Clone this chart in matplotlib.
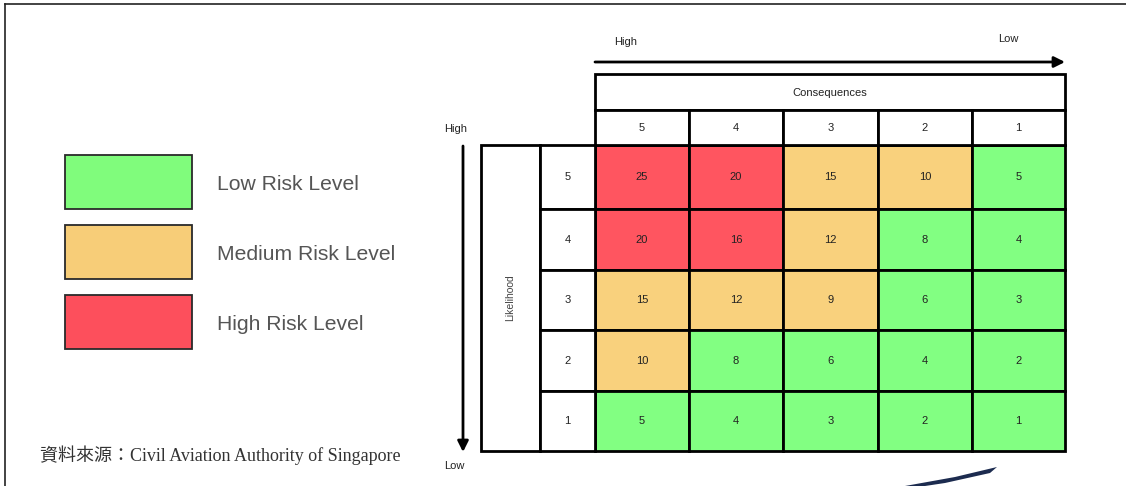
import matplotlib
matplotlib.use("Agg")
import matplotlib.pyplot as plt
from matplotlib.patches import Rectangle, Polygon

# ---------------- data ----------------
consequence_labels = ["5", "4", "3", "2", "1"]      # left -> right
likelihood_labels = ["5", "4", "3", "2", "1"]       # top -> bottom
risk_row_5 = [25, 20, 15, 10, 5]
risk_row_4 = [20, 16, 12, 8, 4]
risk_row_3 = [15, 12, 9, 6, 3]
risk_row_2 = [10, 8, 6, 4, 2]
risk_row_1 = [5, 4, 3, 2, 1]
level_row_5 = ["H", "H", "M", "M", "L"]
level_row_4 = ["H", "H", "M", "L", "L"]
level_row_3 = ["M", "M", "M", "L", "L"]
level_row_2 = ["M", "L", "L", "L", "L"]
level_row_1 = ["L", "L", "L", "L", "L"]
legend_labels = ["Low Risk Level", "Medium Risk Level", "High Risk Level"]
legend_levels = ["L", "M", "H"]
source_text = "資料來源：Civil Aviation Authority of Singapore"

risk_values = [risk_row_5, risk_row_4, risk_row_3, risk_row_2, risk_row_1]
risk_levels = [level_row_5, level_row_4, level_row_3, level_row_2, level_row_1]

# ---------------- style ----------------
cell_colors = {"L": "#82FF82", "M": "#F9D17D", "H": "#FF5560"}
legend_colors = {"L": "#80FC7C", "M": "#F7CD78", "H": "#FD4F5C"}
sans = "Liberation Sans"
lw = 2.0
num_fs = 8

fig = plt.figure(figsize=(11.26, 4.86), dpi=100)
ax = fig.add_axes([0, 0, 1, 1])
ax.set_xlim(0, 1126)
ax.set_ylim(486, 0)
ax.axis("off")

# outer frame (top and left)
ax.plot([5, 1126], [4, 4], color="#222222", lw=1.2)
ax.plot([5, 5], [4, 486], color="#222222", lw=1.2)

# grid layout
col_edges = [595, 689, 783, 878, 972, 1065]
row_edges = [145, 209, 270, 330, 391, 451]
head_top, head_mid = 74, 110
lik_left, lik_num = 481, 540

# matrix cells
for i, (vals, levs) in enumerate(zip(risk_values, risk_levels)):
    for j, (v, lv) in enumerate(zip(vals, levs)):
        x0, x1 = col_edges[j], col_edges[j + 1]
        y0, y1 = row_edges[i], row_edges[i + 1]
        ax.add_patch(Rectangle((x0, y0), x1 - x0, y1 - y0, facecolor=cell_colors[lv],
                               edgecolor="black", lw=lw))
        ax.text((x0 + x1) / 2, (y0 + y1) / 2, str(v), ha="center", va="center",
                fontsize=num_fs, family=sans, color="#222222")

# consequences header
ax.add_patch(Rectangle((col_edges[0], head_top), col_edges[-1] - col_edges[0],
                       head_mid - head_top, facecolor="white", edgecolor="black", lw=lw))
ax.text((col_edges[0] + col_edges[-1]) / 2, (head_top + head_mid) / 2 + 1, "Consequences",
        ha="center", va="center", fontsize=num_fs, family=sans, color="#222222")
for j, lab in enumerate(consequence_labels):
    x0, x1 = col_edges[j], col_edges[j + 1]
    ax.add_patch(Rectangle((x0, head_mid), x1 - x0, row_edges[0] - head_mid,
                           facecolor="white", edgecolor="black", lw=lw))
    ax.text((x0 + x1) / 2, (head_mid + row_edges[0]) / 2, lab, ha="center", va="center",
            fontsize=num_fs, family=sans, color="#222222")

# likelihood header
ax.add_patch(Rectangle((lik_left, row_edges[0]), lik_num - lik_left,
                       row_edges[-1] - row_edges[0], facecolor="white",
                       edgecolor="black", lw=lw))
ax.text((lik_left + lik_num) / 2, (row_edges[0] + row_edges[-1]) / 2, "Likelihood",
        rotation=90, ha="center", va="center", fontsize=7.5, family=sans, color="#444444")
for i, lab in enumerate(likelihood_labels):
    y0, y1 = row_edges[i], row_edges[i + 1]
    ax.add_patch(Rectangle((lik_num, y0), col_edges[0] - lik_num, y1 - y0,
                           facecolor="white", edgecolor="black", lw=lw))
    ax.text((lik_num + col_edges[0]) / 2, (y0 + y1) / 2, lab, ha="center", va="center",
            fontsize=num_fs, family=sans, color="#222222")

# arrows
ax.annotate("", xy=(1065, 62), xytext=(595, 62),
            arrowprops=dict(arrowstyle="-|>", lw=2.0, color="black",
                            mutation_scale=16, shrinkA=0, shrinkB=0))
ax.annotate("", xy=(463, 452), xytext=(463, 146),
            arrowprops=dict(arrowstyle="-|>", lw=2.0, color="black",
                            mutation_scale=16, shrinkA=0, shrinkB=0))
ax.text(626, 42, "High", ha="center", va="center", fontsize=num_fs, family=sans, color="#222222")
ax.text(1008, 39, "Low", ha="center", va="center", fontsize=num_fs, family=sans, color="#222222")
ax.text(456, 129, "High", ha="center", va="center", fontsize=num_fs, family=sans, color="#222222")
ax.text(454, 466, "Low", ha="center", va="center", fontsize=num_fs, family=sans, color="#222222")

# legend
legend_tops = [155, 225, 295]
for top, lab, lv in zip(legend_tops, legend_labels, legend_levels):
    ax.add_patch(Rectangle((65, top), 127, 54, facecolor=legend_colors[lv],
                           edgecolor="#2a2a2a", lw=1.3))
    ax.text(217, top + 29, lab, ha="left", va="center", fontsize=15.2,
            family=sans, color="#555555")

# source
ax.text(40, 455, source_text, ha="left", va="center", fontsize=13,
        family=["Liberation Serif", "Noto Sans CJK TC"], color="#333333")

# decorative swoosh
ax.add_patch(Polygon([(905, 486), (955, 477), (997, 467), (990, 473), (945, 483), (925, 486)],
                     closed=True, facecolor="#1c2b4f", edgecolor="none"))

fig.savefig("out.png", dpi=100)
